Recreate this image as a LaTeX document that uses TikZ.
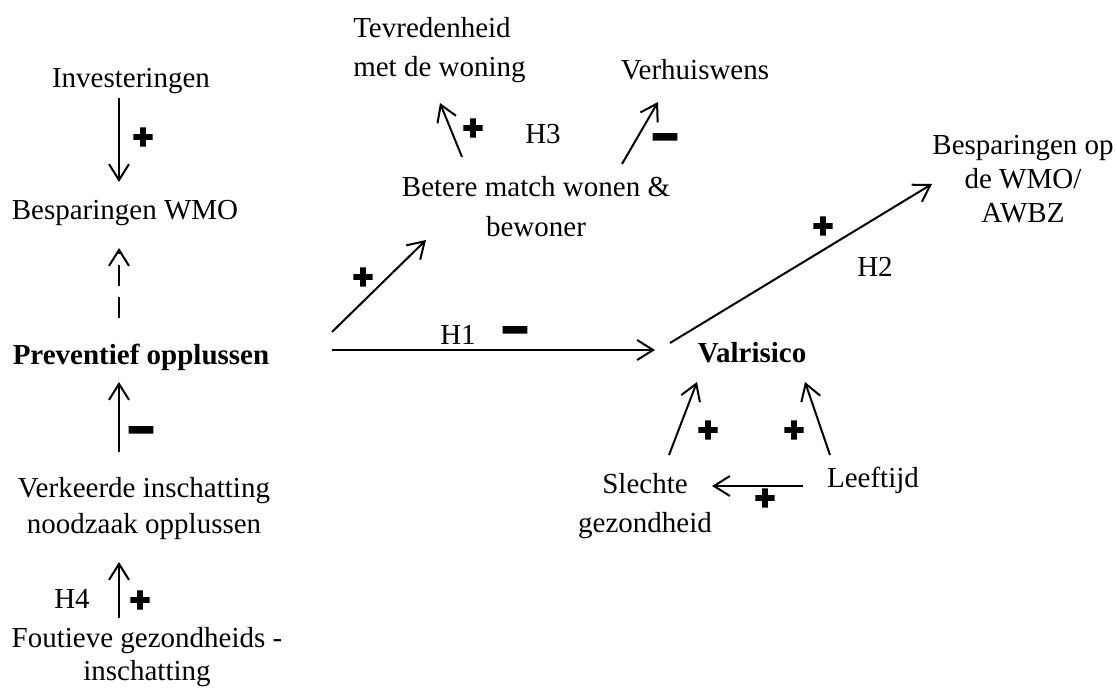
\documentclass[tikz,border=0pt]{standalone}
\usepackage{fontspec}
\setmainfont{Liberation Serif}
\newfontfamily\signfont{DejaVu Sans Bold}[FakeBold=11]
\usetikzlibrary{arrows.meta,calc}
\newcommand\mainsz{\fontsize{21.75pt}{28pt}\selectfont}
\newcommand\mlc[2]{\fontsize{21.75pt}{#1}\selectfont\begin{tabular}[t]{@{}c@{}}#2\end{tabular}}
\newcommand\mll[2]{\fontsize{21.75pt}{#1}\selectfont\begin{tabular}[t]{@{}l@{}}#2\end{tabular}}
\begin{document}
\begin{tikzpicture}[x=0.75pt,y=-0.75pt,
  lbl/.style={anchor=base,inner sep=0pt,font=\mainsz},
  lblw/.style={anchor=base west,inner sep=0pt,font=\mainsz},
  bold/.style={lbl,font=\mainsz\bfseries},
  arr/.style={line width=1.5pt,-{Straight Barb[length=12pt,width=15pt]}},
  dasharr/.style={arr,dash pattern=on 16pt off 8pt},
  plussign/.style={inner sep=0pt,font=\signfont\fontsize{19.5pt}{19.5pt}\selectfont},
  minussign/.style={inner sep=0pt,xscale=1.3,yscale=1.25,font=\signfont\fontsize{19.5pt}{19.5pt}\selectfont}]
\useasboundingbox (0,0) rectangle (1117,691);
% nodes
\node[lbl] (inv) at (131,88) {Investeringen};
\node[lbl] (bwmo) at (125,220) {Besparingen WMO};
\node[bold] (prev) at (141,365) {Preventief opplussen};
\node[lbl] (verk) at (144,497) {\mlc{27pt}{Verkeerde inschatting\\noodzaak opplussen}};
\node[lbl] (fout) at (147,647) {\mlc{24.75pt}{Foutieve gezondheids -\\inschatting}};
\node[lblw] (tev) at (353,38) {\mll{29.25pt}{Tevredenheid\\met de woning}};
\node[lbl] (verh) at (695,80) {Verhuiswens};
\node[lbl] (betere) at (536,197) {\mlc{30pt}{Betere match wonen \&\\bewoner}};
\node[bold] (val) at (752,363) {Valrisico};
\node[lbl] (bes2) at (1023,155) {\mlc{25.5pt}{Besparingen op\\de WMO/\\AWBZ}};
\node[lbl] (slechte) at (645,493) {\mlc{29.25pt}{Slechte\\gezondheid}};
\node[lbl] (leef) at (873,487) {Leeftijd};
% hypothesis labels
\node[lbl] (h1) at (458,345) {H1};
\node[lbl] (h2) at (875,277) {H2};
\node[lbl] (h3) at (543,144) {H3};
\node[lbl] (h4) at (72,608) {H4};
% connectors
\draw[arr] ($(inv.base)+(-12,10)$) -- ($(bwmo.base)+(-6,-38)$);
\draw[dasharr] ($(prev.base)+(-22,-47)$) -- ($(bwmo.base)+(-6,28)$);
\draw[arr] ($(verk.base)+(-25,-45)$) -- ($(prev.base)+(-22,17)$);
\draw[arr] ($(fout.base)+(-28,-29)$) -- ($(verk.base)+(-25,65)$);
\draw[arr] ($(prev.base)+(191,-33)$) -- ($(betere.base)+(-110,43)$);
\draw[arr] ($(prev.base)+(191,-15)$) -- ($(val.base)+(-97,-13)$);
\draw[arr] ($(betere.base)+(-74,-40)$) -- ($(tev.base west)+(87,65)$);
\draw[arr] ($(betere.base)+(86,-33)$) -- ($(verh.base)+(-37,22)$);
\draw[arr] ($(val.base)+(-82,-20)$) -- ($(bes2.base)+(-91,29)$);
\draw[arr] ($(slechte.base)+(24,-38)$) -- ($(val.base)+(-55,19)$);
\draw[arr] ($(leef.base)+(-43,-32)$) -- ($(val.base)+(53,19)$);
\draw[arr] ($(leef.base)+(-70,-1)$) -- ($(slechte.base)+(67,-7)$);
% signs
\node[plussign] (p1) at (143,137) {+};
\node[plussign] (p2) at (140,600) {+};
\node[plussign] (p3) at (363,277) {+};
\node[plussign] (p4) at (473,128) {+};
\node[plussign] (p5) at (823,226) {+};
\node[plussign] (p6) at (708,430) {+};
\node[plussign] (p7) at (794,430) {+};
\node[plussign] (p8) at (765,498) {+};
\node[minussign] (m1) at (141,434) {−};
\node[minussign] (m2) at (515,334) {−};
\node[minussign] (m3) at (665,141) {−};
\end{tikzpicture}
\end{document}
